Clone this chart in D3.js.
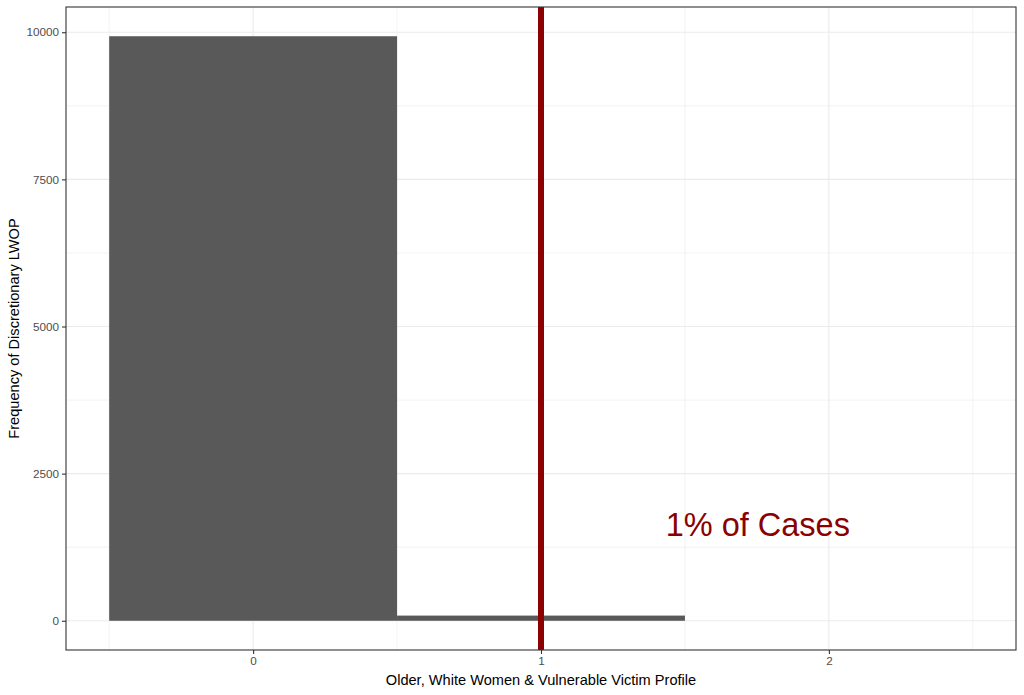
<!DOCTYPE html>
<html>
<head>
<meta charset="utf-8">
<script src="https://cdn.jsdelivr.net/npm/d3@7"></script>
<style>
  body { margin: 0; background: #fff; }
  svg text { font-family: "Liberation Sans", Arial, sans-serif; }
</style>
</head>
<body>
<div id="chart"></div>
<script>
// data
const profileValues = [0, 1];
const frequencies = [9932, 88];
const xTicks = [0, 1, 2];
const yTicks = [0, 2500, 5000, 7500, 10000];
const xMinor = [-0.5, 0.5, 1.5, 2.5];
const yMinor = [1250, 3750, 6250, 8750];
const refLine = 1;
const noteLabel = "1% of Cases";
const notePos = [1.753, 1630];

const width = 1024, height = 695;
const margin = { top: 7, right: 8, bottom: 45, left: 66 };

const svg = d3.select("#chart").append("svg")
    .attr("width", width)
    .attr("height", height);

const x = d3.scaleLinear()
    .domain([-0.65, 2.65])
    .range([margin.left, width - margin.right]);

const y = d3.scaleLinear()
    .domain([-496.6, 10428.6])
    .range([height - margin.bottom, margin.top]);

const panel = svg.append("g");

// minor grid
panel.selectAll(".xminor").data(xMinor).join("line")
    .attr("x1", d => x(d)).attr("x2", d => x(d))
    .attr("y1", margin.top).attr("y2", height - margin.bottom)
    .attr("stroke", "#ebebeb").attr("stroke-width", 0.6);
panel.selectAll(".yminor").data(yMinor).join("line")
    .attr("y1", d => y(d)).attr("y2", d => y(d))
    .attr("x1", margin.left).attr("x2", width - margin.right)
    .attr("stroke", "#ebebeb").attr("stroke-width", 0.6);

// major grid
panel.selectAll(".xmajor").data(xTicks).join("line")
    .attr("x1", d => x(d)).attr("x2", d => x(d))
    .attr("y1", margin.top).attr("y2", height - margin.bottom)
    .attr("stroke", "#ebebeb").attr("stroke-width", 1.1);
panel.selectAll(".ymajor").data(yTicks).join("line")
    .attr("y1", d => y(d)).attr("y2", d => y(d))
    .attr("x1", margin.left).attr("x2", width - margin.right)
    .attr("stroke", "#ebebeb").attr("stroke-width", 1.1);

// bars
panel.selectAll(".bar").data(profileValues).join("rect")
    .attr("x", d => x(d - 0.5))
    .attr("width", d => x(d + 0.5) - x(d - 0.5))
    .attr("y", (d, i) => y(frequencies[i]))
    .attr("height", (d, i) => y(0) - y(frequencies[i]))
    .attr("fill", "#595959");

// reference line
panel.append("line")
    .attr("x1", x(refLine)).attr("x2", x(refLine))
    .attr("y1", margin.top).attr("y2", height - margin.bottom)
    .attr("stroke", "#8b0000").attr("stroke-width", 6);

// annotation
panel.append("text")
    .attr("x", x(notePos[0]))
    .attr("y", y(notePos[1]))
    .attr("dy", "0.35em")
    .attr("text-anchor", "middle")
    .attr("fill", "#8b0000")
    .attr("font-size", "32.5px")
    .text(noteLabel);

// panel border
svg.append("rect")
    .attr("x", margin.left).attr("y", margin.top)
    .attr("width", width - margin.left - margin.right)
    .attr("height", height - margin.top - margin.bottom)
    .attr("fill", "none").attr("stroke", "#333333").attr("stroke-width", 1.1);

// axes
const xAxis = svg.append("g")
    .attr("transform", `translate(0,${height - margin.bottom})`)
    .call(d3.axisBottom(x).tickValues(xTicks).tickSize(4).tickPadding(3).tickFormat(d3.format("d")));
const yAxis = svg.append("g")
    .attr("transform", `translate(${margin.left},0)`)
    .call(d3.axisLeft(y).tickValues(yTicks).tickSize(4).tickPadding(3).tickFormat(d3.format("d")));

[xAxis, yAxis].forEach(a => {
    a.select(".domain").remove();
    a.selectAll(".tick line").attr("stroke", "#333333").attr("stroke-width", 1.1);
    a.selectAll(".tick text")
        .attr("fill", "#4d4d4d")
        .style("font-family", "'Liberation Sans', Arial, sans-serif")
        .style("font-size", "11.7px");
});

// axis titles
svg.append("text")
    .attr("x", (margin.left + width - margin.right) / 2)
    .attr("y", height - 10)
    .attr("text-anchor", "middle")
    .attr("font-size", "14.6px")
    .attr("fill", "#000")
    .text("Older, White Women & Vulnerable Victim Profile");

svg.append("text")
    .attr("transform", `translate(19,${(margin.top + height - margin.bottom) / 2}) rotate(-90)`)
    .attr("text-anchor", "middle")
    .attr("font-size", "14.6px")
    .attr("fill", "#000")
    .text("Frequency of Discretionary LWOP");
</script>
</body>
</html>
